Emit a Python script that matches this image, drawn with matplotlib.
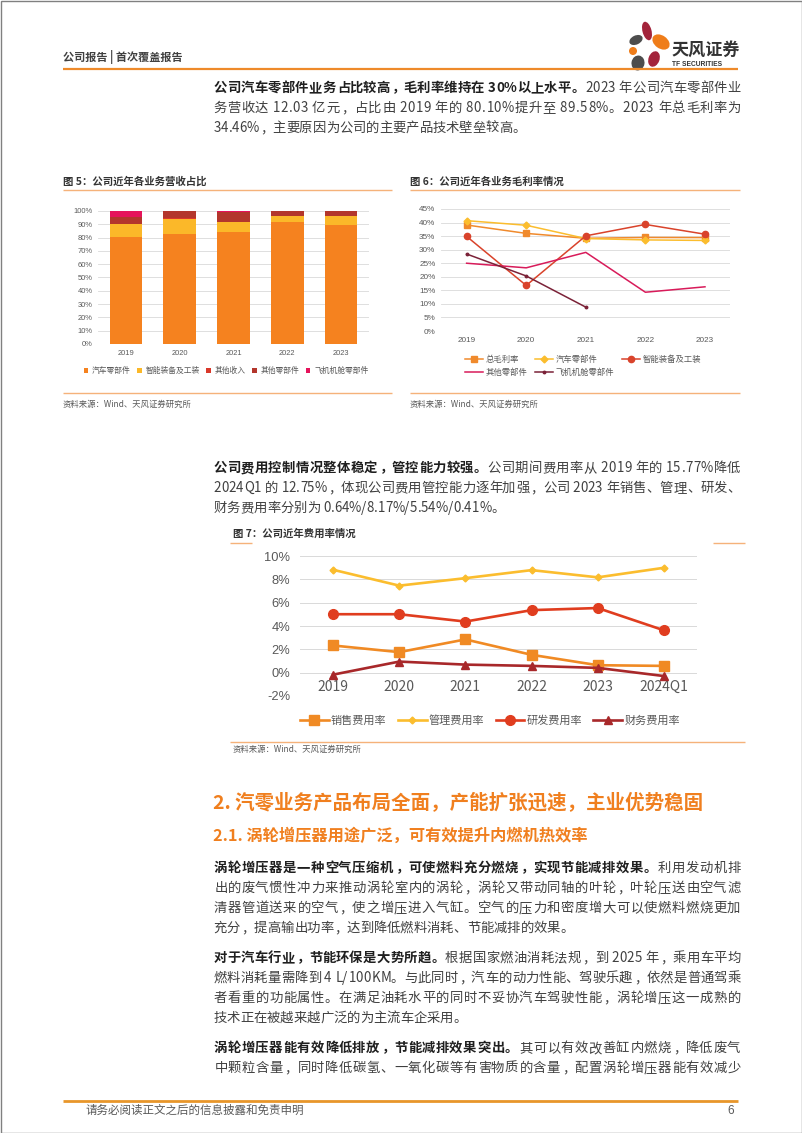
import numpy as np
import matplotlib
matplotlib.use('Agg')
import matplotlib.pyplot as plt
from matplotlib import font_manager as fm
from matplotlib.ft2font import FT2Font
from matplotlib.patches import Ellipse, Rectangle

# ---- data -------------------------------------------------------------
years5 = ['2019', '2020', '2021', '2022', '2023']

# fig 5: revenue share by business (%)
rev_names = ['汽车零部件', '智能装备及工装', '其他收入', '其他零部件', '飞机机舱零部件']
rev_car = [80.10, 82.5, 84.0, 91.7, 89.58]
rev_equip = [10.2, 11.7, 7.7, 4.5, 6.6]
rev_other_income = [0.3, 0.3, 0.3, 0.2, 0.2]
rev_other_parts = [4.8, 5.3, 7.5, 3.6, 3.62]
rev_aircraft = [4.6, 0.2, 0.5, 0.0, 0.0]
rev_colors = ['#f5821f', '#fbb829', '#d9382a', '#b3362c', '#e5135b']

# fig 6: gross margin by business (%)
gm_names = ['总毛利率', '汽车零部件', '智能装备及工装', '其他零部件', '飞机机舱零部件']
gm_total = [39.1, 36.0, 34.2, 34.5, 34.46]
gm_car = [40.7, 39.0, 34.1, 33.6, 33.4]
gm_equip = [34.9, 16.8, 35.1, 39.3, 35.7]
gm_other = [25.0, 23.3, 29.0, 14.3, 16.3]
gm_air = [28.4, 20.3, 8.8, np.nan, np.nan]

# fig 7: expense ratios (%)
years7 = ['2019', '2020', '2021', '2022', '2023', '2024Q1']
exp_names = ['销售费用率', '管理费用率', '研发费用率', '财务费用率']
exp_sales = [2.33, 1.76, 2.85, 1.53, 0.64, 0.58]
exp_admin = [8.82, 7.46, 8.10, 8.79, 8.17, 8.99]
exp_rnd = [5.01, 5.01, 4.38, 5.36, 5.54, 3.63]
exp_fin = [-0.17, 0.95, 0.69, 0.58, 0.41, -0.29]

# ---- page setup -------------------------------------------------------
W, H = 802, 1133
CJK = 'Noto Sans CJK SC'
LAT = 'Liberation Sans'
ORANGE = '#ee8a2a'
LIGHT_OR = '#f5b27a'
plt.rcParams['font.family'] = [CJK, 'DejaVu Sans']

fig = plt.figure(figsize=(W / 100, H / 100), dpi=100)
page = fig.add_axes([0, 0, 1, 1])
page.set_xlim(0, W)
page.set_ylim(H, 0)
page.axis('off')


def px_axes(l, t, r, b):
    return fig.add_axes([l / W, 1 - b / H, (r - l) / W, (b - t) / H])


_fonts = {}


def get_ft(weight, size):
    key = (weight, size)
    if key not in _fonts:
        path = fm.findfont(fm.FontProperties(family=CJK, weight=weight))
        f = FT2Font(path)
        f.set_size(size, 100)
        _fonts[key] = f
    return _fonts[key]


def text_line(x0, y, runs, size=9.6, width=None, color='#404040', bold_color='#1f1f1f'):
    """draw one line char by char, optionally justified to width"""
    chars = [(ch, b) for s, b in runs for ch in s]
    adv, lsb = [], []
    for ch, b in chars:
        g = get_ft('bold' if b else 'normal', size).load_char(ord(ch))
        adv.append(g.linearHoriAdvance / 65536)
        lsb.append(g.horiBearingX / 64)
    gap = 0
    if width is not None and len(chars) > 1:
        gap = (width - sum(adv)) / (len(chars) - 1)
    x = x0
    for (ch, b), a, l in zip(chars, adv, lsb):
        if not ch.isspace():
            page.text(x + l, y, ch, fontsize=size, family=CJK,
                      weight='bold' if b else 'normal',
                      color=bold_color if b else color, ha='left', va='baseline')
        x += a + gap


def hline(x0, x1, y, color=ORANGE, lw=1.0):
    page.plot([x0, x1], [y, y], color=color, lw=lw, solid_capstyle='butt')


# border
page.add_patch(Rectangle((0.5, 0.5), W - 1, H - 1, fill=False, ec='#808080', lw=1))

# header
page.text(63, 61, '公司报告 | 首次覆盖报告', fontsize=8, weight='bold', color='#404040',
          ha='left', va='baseline')
hline(63, 738, 69, ORANGE, 1.6)

# logo
petals = [((647, 31), 9, 19, -15, '#a3243b'),
          ((661, 42), 19, 13, 35, '#ef7d1a'),
          ((636, 40), 14, 9, -25, '#4d4d4d'),
          ((633, 51), 8, 8, 0, '#ef7d1a'),
          ((654, 59), 11, 16, 20, '#a3243b'),
          ((638, 63), 13, 15, 10, '#4d4d4d')]
for c, w, h, ang, col in petals:
    page.add_patch(Ellipse(c, w, h, angle=ang, color=col, lw=0))
page.text(671, 55, '天风证券', fontsize=12.3, weight='bold', color='#333333',
          ha='left', va='baseline')
page.text(672, 66, 'TF SECURITIES', fontsize=4.8, weight='bold', family=LAT,
          color='#333333', ha='left', va='baseline')

# paragraph 1
TW = 527
text_line(213, 92, [('公司汽车零部件业务占比较高，毛利率维持在 30%以上水平。', True),
                    ('2023 年公司汽车零部件业', False)], width=TW)
text_line(213, 112, [('务营收达 12.03 亿元，占比由 2019 年的 80.10%提升至 89.58%。2023 年总毛利率为', False)],
          width=TW)
text_line(213, 132, [('34.46%，主要原因为公司的主要产品技术壁垒较高。', False)])

# ---- fig 5 ---------------------------------------------------------------
page.text(63, 185, '图 5：公司近年各业务营收占比', fontsize=7.5, weight='bold', color='#333333',
          ha='left', va='baseline')
hline(63, 392, 190, LIGHT_OR, 1.0)
hline(63, 392, 393, LIGHT_OR, 1.0)
page.text(63, 407, '资料来源：Wind、天风证券研究所', fontsize=6, color='#595959', ha='left', va='baseline')

ax5 = px_axes(98, 211, 369, 344)
x5 = np.arange(len(years5))
bottom = np.zeros(len(years5))
rev_series = [rev_car, rev_equip, rev_other_income, rev_other_parts, rev_aircraft]
for vals, name, col in zip(rev_series, rev_names, rev_colors):
    ax5.bar(x5, vals, 0.61, bottom=bottom, color=col, label=name, zorder=3)
    bottom += np.array(vals)
ax5.set_xlim(-0.52, 4.52)
ax5.set_ylim(0, 100)
ax5.set_yticks(range(0, 101, 10))
ax5.set_yticklabels([f'{v}%' for v in range(0, 101, 10)], family=LAT)
ax5.set_xticks(x5)
ax5.set_xticklabels(years5, family=LAT)
ax5.grid(axis='y', color='#d9d9d9', lw=0.6, zorder=0)
ax5.tick_params(length=0, labelsize=5.4, colors='#595959', pad=4)
for s in ax5.spines.values():
    s.set_visible(False)
ax5.set_facecolor('none')
ax5.legend(loc='center', bbox_to_anchor=(226 / W, 1 - 371 / H), bbox_transform=fig.transFigure,
           ncol=5, frameon=False, fontsize=5.6, handlelength=0.6, handleheight=0.6,
           handletextpad=0.5, columnspacing=0.8, labelcolor='#595959')

# ---- fig 6 ---------------------------------------------------------------
page.text(410, 185, '图 6：公司近年各业务毛利率情况', fontsize=7.5, weight='bold', color='#333333',
          ha='left', va='baseline')
hline(410, 740, 190, LIGHT_OR, 1.0)
hline(410, 740, 393, LIGHT_OR, 1.0)
page.text(410, 407, '资料来源：Wind、天风证券研究所', fontsize=6, color='#595959', ha='left', va='baseline')

ax6 = px_axes(441, 209, 730, 331)
x6 = np.arange(len(years5))
gm_series = [gm_total, gm_car, gm_equip, gm_other, gm_air]
gm_styles = [dict(color='#f08a2c', marker='s', ms=4),
             dict(color='#fbbd2e', marker='D', ms=3.5),
             dict(color='#d9432b', marker='o', ms=4.5),
             dict(color='#d81b5a', marker=None),
             dict(color='#7b2238', marker='o', ms=1.8)]
lines6 = []
for vals, name, st in zip(gm_series, gm_names, gm_styles):
    ln, = ax6.plot(x6, vals, lw=1.1, label=name, zorder=3, **st)
    lines6.append(ln)
ax6.set_xlim(-0.43, 4.42)
ax6.set_ylim(0, 45)
ax6.set_yticks(range(0, 46, 5))
ax6.set_yticklabels([f'{v}%' for v in range(0, 46, 5)], family=LAT)
ax6.set_xticks(x6)
ax6.set_xticklabels(years5, family=LAT)
ax6.grid(axis='y', color='#d9d9d9', lw=0.6, zorder=0)
ax6.tick_params(length=0, labelsize=5.9, colors='#595959', pad=4)
for s in ax6.spines.values():
    s.set_visible(False)
ax6.set_facecolor('none')
order = [0, 3, 1, 4, 2]
ax6.legend([lines6[i] for i in order], [gm_names[i] for i in order], loc='center left',
           bbox_to_anchor=(457 / W, 1 - 366 / H), bbox_transform=fig.transFigure,
           ncol=3, frameon=False, fontsize=6, handlelength=2.2, handletextpad=0.3,
           columnspacing=0.9, labelspacing=0.5, labelcolor='#595959')

# ---- paragraph 2 ---------------------------------------------------------
text_line(213, 472, [('公司费用控制情况整体稳定，管控能力较强。', True),
                     ('公司期间费用率从 2019 年的 15.77%降低', False)], width=TW)
text_line(213, 492, [('2024Q1 的 12.75%，体现公司费用管控能力逐年加强，公司 2023 年销售、管理、研发、', False)],
          width=TW)
text_line(213, 512, [('财务费用率分别为 0.64%/8.17%/5.54%/0.41%。', False)])

# ---- fig 7 ---------------------------------------------------------------
page.text(233, 537, '图 7：公司近年费用率情况', fontsize=7.5, weight='bold', color='#333333',
          ha='left', va='baseline')
hline(230, 252, 543, LIGHT_OR, 1.0)
hline(713, 745, 543, LIGHT_OR, 1.0)
hline(230, 745, 742, LIGHT_OR, 1.0)
page.text(233, 752, '资料来源：Wind、天风证券研究所', fontsize=6, color='#595959', ha='left', va='baseline')

ax7 = px_axes(300, 556, 697, 696)
x7 = np.arange(len(years7))
exp_series = [exp_sales, exp_admin, exp_rnd, exp_fin]
exp_styles = [dict(color='#f08a24', marker='s', ms=6.5),
              dict(color='#fbbd2e', marker='D', ms=3.5),
              dict(color='#e03d1f', marker='o', ms=7),
              dict(color='#a8282a', marker='^', ms=6)]
for vals, name, st in zip(exp_series, exp_names, exp_styles):
    ax7.plot(x7, vals, lw=1.9, label=name, zorder=3, **st)
ax7.set_xlim(-0.5, 5.5)
ax7.set_ylim(-2, 10)
ax7.set_yticks(range(-2, 11, 2))
ax7.set_yticklabels([f'{v}%' for v in range(-2, 11, 2)], family=LAT)
ax7.set_xticks(x7)
ax7.set_xticklabels(years7, family=LAT, fontsize=10)
ax7.spines['bottom'].set_position(('data', 0))
for s in ax7.spines.values():
    s.set_visible(False)
ax7.grid(axis='y', color='#d9d9d9', lw=0.7, zorder=0)
ax7.tick_params(axis='y', length=0, labelsize=9.3, colors='#595959', pad=7)
ax7.tick_params(axis='x', length=0, colors='#595959', pad=5)
ax7.set_facecolor('none')
ax7.legend(loc='center', bbox_to_anchor=(490 / W, 1 - 720 / H), bbox_transform=fig.transFigure,
           ncol=4, frameon=False, fontsize=8, handlelength=2.6, handletextpad=0.2,
           columnspacing=1.0, labelcolor='#595959')

# ---- section 2 -----------------------------------------------------------
page.text(213, 809, '2. 汽零业务产品布局全面，产能扩张迅速，主业优势稳固', fontsize=14,
          weight='bold', color='#f07f1e', ha='left', va='baseline')
page.text(213, 841, '2.1. 涡轮增压器用途广泛，可有效提升内燃机热效率', fontsize=11.7,
          weight='bold', color='#f07f1e', ha='left', va='baseline')

body = [
    (872, [('涡轮增压器是一种空气压缩机，可使燃料充分燃烧，实现节能减排效果。', True), ('利用发动机排', False)], True),
    (892, [('出的废气惯性冲力来推动涡轮室内的涡轮，涡轮又带动同轴的叶轮，叶轮压送由空气滤', False)], True),
    (912, [('清器管道送来的空气，使之增压进入气缸。空气的压力和密度增大可以使燃料燃烧更加', False)], True),
    (932, [('充分，提高输出功率，达到降低燃料消耗、节能减排的效果。', False)], False),
    (962, [('对于汽车行业，节能环保是大势所趋。', True), ('根据国家燃油消耗法规，到 2025 年，乘用车平均', False)], True),
    (982, [('燃料消耗量需降到 4 L/100KM。与此同时，汽车的动力性能、驾驶乐趣，依然是普通驾乘', False)], True),
    (1002, [('者看重的功能属性。在满足油耗水平的同时不妥协汽车驾驶性能，涡轮增压这一成熟的', False)], True),
    (1022, [('技术正在被越来越广泛的为主流车企采用。', False)], False),
    (1052, [('涡轮增压器能有效降低排放，节能减排效果突出。', True), ('其可以有效改善缸内燃烧，降低废气', False)], True),
    (1072, [('中颗粒含量，同时降低碳氢、一氧化碳等有害物质的含量，配置涡轮增压器能有效减少', False)], True),
]
for y, runs, just in body:
    text_line(213, y, runs, width=TW if just else None)

# footer
hline(63, 738, 1101, '#e8962a', 2.0)
page.text(85, 1114, '请务必阅读正文之后的信息披露和免责申明', fontsize=8.3, color='#595959',
          ha='left', va='baseline')
page.text(734, 1114, '6', fontsize=8.5, family=LAT, color='#595959', ha='right', va='baseline')

fig.savefig('out.png', dpi=100)
plt.close(fig)
